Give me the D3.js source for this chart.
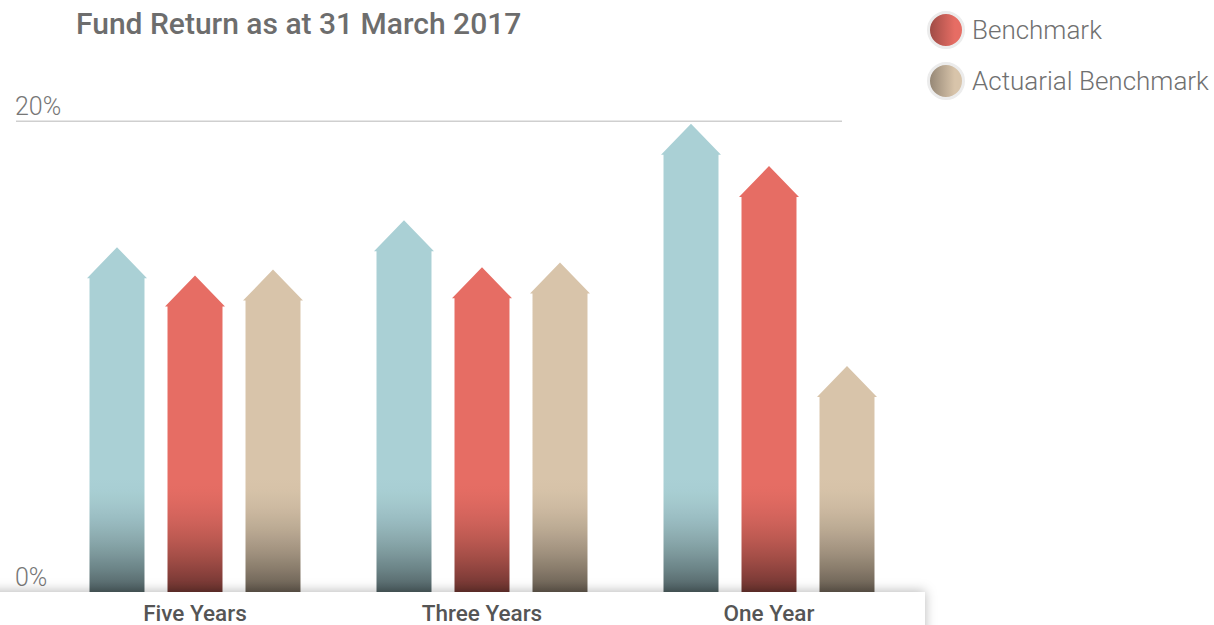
<!DOCTYPE html>
<html>
<head>
<meta charset="utf-8">
<script src="https://cdn.jsdelivr.net/npm/d3@7"></script>
<style>
  html, body { margin: 0; padding: 0; background: #fff; overflow: hidden; }
  #chart { width: 1214px; height: 625px; }
</style>
</head>
<body>
<div id="chart"></div>
<script>
const categories = ['Five Years', 'Three Years', 'One Year'];
const seriesNames = ['Fund', 'Benchmark', 'Actuarial Benchmark'];
const fundValues = [14.65, 15.8, 19.9];
const benchmarkValues = [13.45, 13.8, 18.1];
const actuarialValues = [13.7, 14.0, 9.6];
const yTicks = [0, 20];
const yTickLabels = ['0%', '20%'];
const seriesColors = ['#aad0d5', '#e66d64', '#d8c4aa'];
const legendNames = ['Benchmark', 'Actuarial Benchmark'];
const titleText = 'Fund Return as at 31 March 2017';

const width = 1214, height = 625;
const headH = 31, headOver = 2.5;

const svg = d3.select('#chart').append('svg')
  .attr('width', width).attr('height', height);
const defs = svg.append('defs');

const x0 = d3.scaleBand().domain(categories).range([51.5, 912.5]);
const x1 = d3.scaleBand().domain(seriesNames).range([-117, 117])
  .paddingInner(0.295).paddingOuter(0.1475);
const y = d3.scaleLinear().domain([0, 20]).range([592, 121.3]);
const color = d3.scaleOrdinal().domain(seriesNames).range(seriesColors);

const table = categories.map((c, i) => ({
  category: c,
  values: [fundValues[i], benchmarkValues[i], actuarialValues[i]]
    .map((v, j) => ({ name: seriesNames[j], value: v }))
}));

// bar gradients, tied to the baseline so every bar darkens at the same height
seriesNames.forEach((name, i) => {
  const c = d3.color(color(name));
  const dark = c.darker(2.2);
  const mix = d3.interpolateRgb(c, dark);
  const g = defs.append('linearGradient')
    .attr('id', 'barGrad' + i)
    .attr('gradientUnits', 'userSpaceOnUse')
    .attr('x1', 0).attr('x2', 0)
    .attr('y1', y(4.8)).attr('y2', y(0));
  d3.range(0, 1.01, 0.05).forEach(t => {
    g.append('stop').attr('offset', t).attr('stop-color', mix(Math.pow(t, 1.7)));
  });

  const lg = defs.append('linearGradient')
    .attr('id', 'legGrad' + i)
    .attr('x1', 0).attr('x2', 1).attr('y1', 0).attr('y2', 0);
  lg.append('stop').attr('offset', 0).attr('stop-color', c.darker(1.1).formatHex());
  lg.append('stop').attr('offset', 0.75).attr('stop-color', c.formatHex());
});

const shadow = defs.append('filter').attr('id', 'panelShadow')
  .attr('x', '-10%').attr('y', '-80%').attr('width', '120%').attr('height', '260%');
shadow.append('feDropShadow')
  .attr('dx', 0).attr('dy', -1).attr('stdDeviation', 6)
  .attr('flood-color', '#000').attr('flood-opacity', 0.28);

// title
svg.append('text')
  .attr('x', 76).attr('y', 34)
  .attr('font-family', 'Roboto, "Helvetica Neue", sans-serif')
  .attr('font-weight', 500)
  .attr('font-size', 30)
  .attr('fill', '#6d6d6d')
  .text(titleText);

// gridline + y labels
const gridG = svg.append('g');
gridG.selectAll('line').data(yTicks.filter(d => d > 0)).join('line')
  .attr('x1', 16).attr('x2', 842)
  .attr('y1', d => y(d)).attr('y2', d => y(d))
  .attr('stroke', '#cfcfcf').attr('stroke-width', 1.5);
gridG.selectAll('text').data(yTicks).join('text')
  .attr('x', 15).attr('y', d => y(d) - 6)
  .attr('font-family', 'Roboto, "Helvetica Neue", sans-serif')
  .attr('font-weight', 300)
  .attr('font-size', 25)
  .attr('fill', '#777')
  .text((d, i) => yTickLabels[i]);

// bars
const groups = svg.append('g').selectAll('g.cat').data(table).join('g')
  .attr('class', 'cat')
  .attr('transform', d => 'translate(' + (x0(d.category) + x0.bandwidth() / 2) + ',0)');

groups.selectAll('path').data(d => d.values).join('path')
  .attr('d', d => {
    const l = x1(d.name), r = l + x1.bandwidth(), cx = l + x1.bandwidth() / 2;
    const tip = y(d.value), sh = tip + headH, base = y(0);
    return 'M' + l + ',' + base + 'L' + l + ',' + sh + 'L' + (l - headOver) + ',' + sh +
      'L' + cx + ',' + tip + 'L' + (r + headOver) + ',' + sh + 'L' + r + ',' + sh +
      'L' + r + ',' + base + 'Z';
  })
  .attr('fill', d => 'url(#barGrad' + seriesNames.indexOf(d.name) + ')');

// bottom panel with shadow
svg.append('rect')
  .attr('x', -30).attr('y', y(0)).attr('width', 955).attr('height', 80)
  .attr('fill', '#fff')
  .attr('filter', 'url(#panelShadow)');

// x axis labels
svg.append('g').selectAll('text').data(categories).join('text')
  .attr('x', d => x0(d) + x0.bandwidth() / 2)
  .attr('y', 621)
  .attr('text-anchor', 'middle')
  .attr('font-family', 'Roboto, "Helvetica Neue", sans-serif')
  .attr('font-weight', 500)
  .attr('font-size', 22.5)
  .attr('fill', '#555')
  .text(d => d);

// legend
const legend = svg.append('g').selectAll('g').data(legendNames).join('g')
  .attr('transform', (d, i) => 'translate(946,' + (30 + i * 51) + ')');
legend.append('circle')
  .attr('r', 17.5)
  .attr('fill', d => 'url(#legGrad' + seriesNames.indexOf(d) + ')')
  .attr('stroke', '#ececec').attr('stroke-width', 3);
legend.append('text')
  .attr('x', 26).attr('y', 9)
  .attr('font-family', 'Roboto, "Helvetica Neue", sans-serif')
  .attr('font-weight', 300)
  .attr('font-size', 26)
  .attr('fill', '#707070')
  .text(d => d);
</script>
</body>
</html>
